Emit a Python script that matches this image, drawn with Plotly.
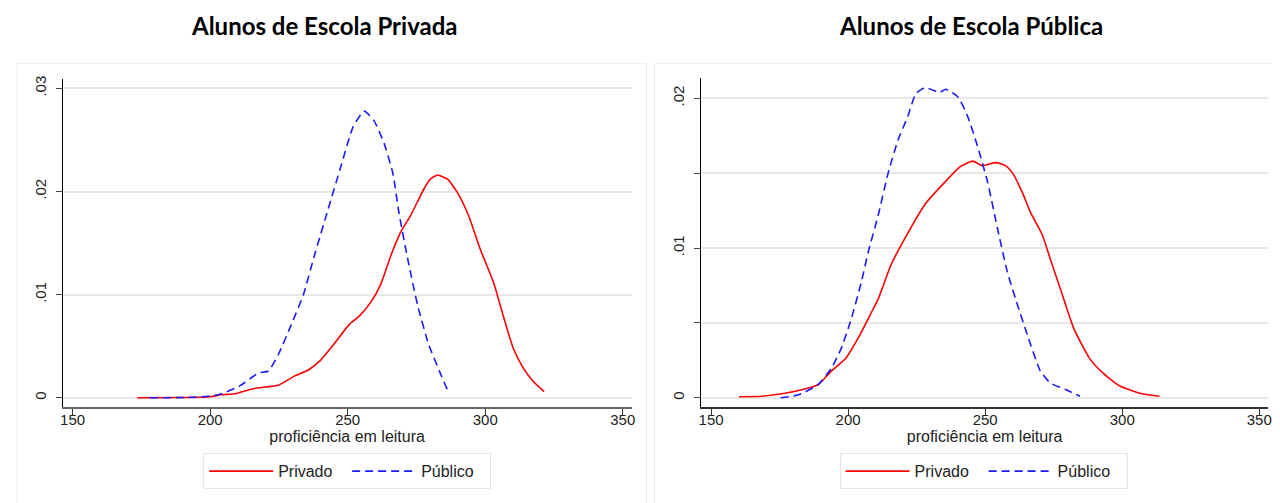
import plotly.graph_objects as go

# ---- data ----
priv_private_x = [173.5, 190, 200, 204, 209, 216, 225, 230.6, 235.7, 240, 245, 250.5, 254.1, 258.5, 262, 265.7,
                  269.3, 272.9, 277.6, 280, 282.7, 286.3, 289.9, 293.9, 298.2, 303, 306.5, 310.2, 313.8, 317.4, 321.4]
priv_private_y = [0, 0.00003, 0.0001, 0.0003, 0.0004, 0.0009, 0.00125, 0.0021, 0.0027, 0.0036, 0.0052, 0.0071,
                  0.0079, 0.0093, 0.011, 0.0138, 0.0161, 0.0177, 0.0202, 0.0212, 0.0216, 0.0212, 0.0199, 0.0177,
                  0.0144, 0.0112, 0.0080, 0.0048, 0.0029, 0.0016, 0.0006]
priv_public_x = [178, 194, 203, 210.4, 217.6, 221.2, 224.8, 229.5, 233.9, 237.9, 242.9, 247.6, 252, 256, 259.5,
                 263.2, 266.4, 268.6, 271.8, 275.4, 279.4, 283.8, 286.7]
priv_public_y = [0, 0.00005, 0.0003, 0.0011, 0.0024, 0.0026, 0.0042, 0.0071, 0.010, 0.0138, 0.0183, 0.0225,
                 0.0263, 0.0278, 0.0269, 0.0247, 0.0218, 0.018, 0.0135, 0.009, 0.0052, 0.0023, 0.0005]

pub_private_x = [160.2, 168.5, 177, 184.5, 189.2, 194, 199, 203.7, 208.5, 211, 215.7, 221.8, 228.4, 235.3, 240.7,
                 245.4, 249, 253.8, 257.4, 260, 263.6, 266.5, 270.8, 273.7, 277.4, 282.4, 288.2, 293.3, 299,
                 306.4, 313.6]
pub_private_y = [0.00007, 0.0001, 0.0003, 0.0006, 0.0009, 0.0018, 0.0026, 0.004, 0.0057, 0.0066, 0.0089, 0.011,
                 0.013, 0.0144, 0.0154, 0.0158, 0.0155, 0.0157, 0.0155, 0.015, 0.0137, 0.0124, 0.0109, 0.0093,
                 0.0073, 0.0046, 0.0026, 0.0016, 0.0008, 0.0003, 0.0001]
pub_public_x = [175.4, 182, 189.2, 194, 197.5, 201.2, 204.8, 207.3, 211, 214.6, 218.2, 221.8, 224.7, 228, 233.5,
                235.6, 240, 243.6, 247.2, 250.9, 254.5, 258.1, 261.8, 265.4, 270.1, 273.7, 279.9, 284.6]
pub_public_y = [0, 0.0002, 0.0009, 0.002, 0.0033, 0.0053, 0.0077, 0.0097, 0.0122, 0.015, 0.0172, 0.0188, 0.0203,
                0.0207, 0.0204, 0.0206, 0.0201, 0.0188, 0.0168, 0.0144, 0.0113, 0.0084, 0.0062, 0.0042, 0.0018,
                0.001, 0.0005, 0.0001]

x_ticks = [150, 200, 250, 300, 350]
left_y_ticks = [0, 0.01, 0.02, 0.03]
left_y_text = ["0", ".01", ".02", ".03"]
right_y_ticks = [0, 0.005, 0.01, 0.015, 0.02]
right_y_text = ["0", "", ".01", "", ".02"]
titles = ["Alunos de Escola Privada", "Alunos de Escola Pública"]
x_title = "proficiência em leitura"
series_names = ["Privado", "Público"]

RED = "#ff0000"
BLUE = "#1a1aff"
OFF = 8                 # default body margin of the html page
W, H = 1280 - OFF, 503 - OFF

fig = go.Figure()

def add_pair(xa, ya, px, py, qx, qy, legend):
    fig.add_trace(go.Scatter(x=px, y=py, mode="lines", name=series_names[0], xaxis=xa, yaxis=ya,
                             line=dict(color=RED, width=1.6, shape="spline", smoothing=0.5), legend=legend))
    fig.add_trace(go.Scatter(x=qx, y=qy, mode="lines", name=series_names[1], xaxis=xa, yaxis=ya,
                             line=dict(color=BLUE, width=1.6, dash="8px,5px", shape="spline", smoothing=0.5),
                             legend=legend))

add_pair("x", "y", priv_private_x, priv_private_y, priv_public_x, priv_public_y, "legend")
add_pair("x2", "y2", pub_private_x, pub_private_y, pub_public_x, pub_public_y, "legend2")

def px_x(p):
    return (p - OFF) / W

def px_y(p):
    return (H - (p - OFF)) / H

FONT = "Liberation Sans, Arial, sans-serif"
font_ax = dict(family=FONT, size=15, color="#222")

def xaxis_style(linecolor):
    return dict(range=[146.4, 353.2], tickvals=x_ticks, ticks="outside", ticklen=6, tickwidth=1,
                tickcolor="#333", showline=True, linecolor=linecolor, linewidth=2, showgrid=False,
                zeroline=False, tickfont=font_ax, ticklabelstandoff=-8,
                title=dict(text=x_title, font=dict(family=FONT, size=16, color="#222"), standoff=2))

ycommon = dict(ticks="outside", ticklen=6, tickwidth=1, tickcolor="#444", showline=True, linecolor="#000",
               linewidth=1, showgrid=True, gridcolor="#e8e8e8", gridwidth=1.5, zeroline=False,
               tickangle=-90, tickfont=font_ax, ticklabelstandoff=4)

legend_common = dict(orientation="h", xanchor="center", yanchor="middle", bordercolor="#e6e6e6",
                     borderwidth=1, bgcolor="white", itemwidth=64, entrywidth=64, entrywidthmode="pixels",
                     font=dict(family=FONT, size=16, color="#222"))

fig.update_layout(
    width=W, height=H, margin=dict(l=0, r=0, t=0, b=0),
    paper_bgcolor="white", plot_bgcolor="white", showlegend=True,
    xaxis=dict(domain=[px_x(60), px_x(632)], anchor="y", **xaxis_style("#666")),
    yaxis=dict(domain=[px_y(406), px_y(76)], anchor="x", range=[-0.00087, 0.03087],
               tickvals=left_y_ticks, ticktext=left_y_text, **ycommon),
    xaxis2=dict(domain=[px_x(702), px_x(1272)], anchor="y2", **xaxis_style("#333")),
    yaxis2=dict(domain=[px_y(406), px_y(75)], anchor="x2", range=[-0.0006, 0.02132],
                tickvals=right_y_ticks, ticktext=right_y_text, **ycommon),
    legend=dict(x=px_x(346), y=px_y(471), **legend_common),
    legend2=dict(x=px_x(986), y=px_y(471), **legend_common),
)

# panel frames
for x0, x1 in [(14, 647), (655, 1279)]:
    fig.add_shape(type="rect", xref="paper", yref="paper", x0=px_x(x0), x1=px_x(x1), y0=-0.02, y1=px_y(60),
                  line=dict(color="#ececec", width=1), layer="below")

for t, cx in zip(titles, [323, 973]):
    fig.add_annotation(text="<b>" + t + "</b>", xref="paper", yref="paper", x=px_x(cx), y=px_y(22),
                       xanchor="center", yanchor="middle", showarrow=False,
                       font=dict(family="Lato, Open Sans, sans-serif", size=24, color="#000"))

fig.write_html("out.html")
